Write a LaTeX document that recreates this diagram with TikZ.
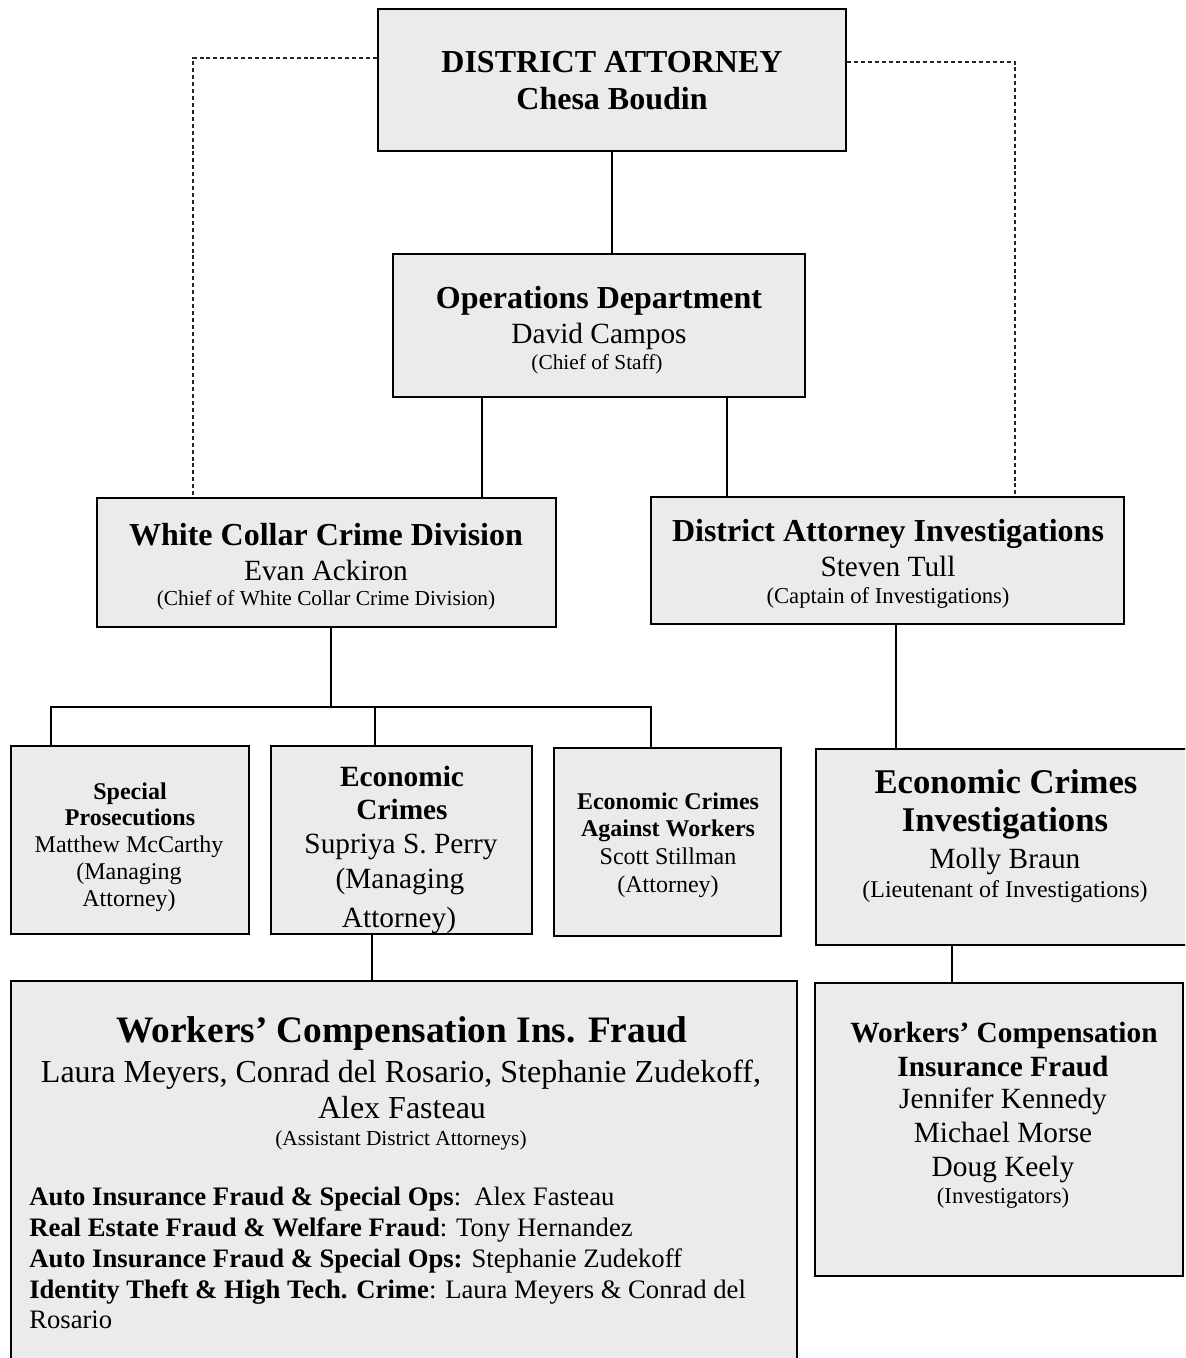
\documentclass[tikz,border=0pt]{standalone}
\usepackage{fontspec}
\setmainfont{Liberation Serif}
\usetikzlibrary{fit}
\definecolor{boxgray}{HTML}{EBEBEB}
\newcommand\setfs[1]{\fontsize{#1}{#1}\selectfont}
\tikzset{
  box/.style={draw=black, line width=1.7pt, fill=boxgray, inner sep=0pt, rectangle},
  conn/.style={draw=black, line width=0.9pt},
  dconn/.style={draw=black!85, line width=1.4pt, dash pattern=on 3pt off 2.2pt},
  txt/.style={anchor=base, inner sep=0pt},
  ltxt/.style={anchor=base west, inner sep=0pt, font=\setfs{20}},
  b28/.style={font=\setfs{28}\bfseries},
  b26/.style={font=\setfs{26}\bfseries},
  b24/.style={font=\setfs{24}\bfseries},
  b22/.style={font=\setfs{22}\bfseries},
  b18/.style={font=\setfs{18}\bfseries},
  r24/.style={font=\setfs{24}},
  r22/.style={font=\setfs{22}},
  r18/.style={font=\setfs{18}},
  r17/.style={font=\setfs{17}},
  r16/.style={font=\setfs{16}},
}
\begin{document}
\begin{tikzpicture}[x=0.75pt,y=-0.75pt]
\useasboundingbox (0,0) rectangle (1185,1358);
\fill[white] (0,0) rectangle (1185,1358);
\clip (0,0) rectangle (1185,1358);

% boxes
\node[box, fit={(378,9) (846,151)}] (da) {};
\node[box, fit={(393,254) (805,397)}] (ops) {};
\node[box, fit={(97,498) (556,627)}] (wccd) {};
\node[box, fit={(651,497) (1124,624)}] (dai) {};
\node[box, fit={(11,746) (249,934)}] (sp) {};
\node[box, fit={(271,746) (532,934)}] (ec) {};
\node[box, fit={(554,748) (781,936)}] (ecaw) {};
\node[box, fit={(816,749) (1200,945)}] (eci) {};
\node[box, fit={(11,981) (797,1380)}] (wcif) {};
\node[box, fit={(815,983) (1183,1276)}] (wcir) {};

% junction coordinates
\coordinate (cA) at (612,0);
\coordinate (cB) at (482,0);
\coordinate (cC) at (727,0);
\coordinate (dl) at (193,58);
\coordinate (dr) at (1015,62);
\coordinate (jw) at (331,707);
\coordinate (bl) at (51,707);
\coordinate (bm) at (375,707);
\coordinate (br) at (651,707);
\coordinate (cD) at (896,0);
\coordinate (cE) at (372,0);
\coordinate (cF) at (952,0);

% connectors
\draw[conn] (da.south -| cA) -- (ops.north -| cA);
\draw[conn] (ops.south -| cB) -- (wccd.north -| cB);
\draw[conn] (ops.south -| cC) -- (dai.north -| cC);
\draw[dconn] (da.west |- dl) -- (dl) -- (dl |- wccd.north);
\draw[dconn] (da.east |- dr) -- (dr) -- (dr |- dai.north);
\draw[conn] (wccd.south -| jw) -- (jw);
\draw[conn] (bl |- sp.north) -- (bl) -- (br) -- (br |- ecaw.north);
\draw[conn] (bm) -- (bm |- ec.north);
\draw[conn] (dai.south -| cD) -- (eci.north -| cD);
\draw[conn] (ec.south -| cE) -- (wcif.north -| cE);
\draw[conn] (eci.south -| cF) -- (wcir.north -| cF);

% texts
\node[txt,b24] (da1) at (612,73) {DISTRICT ATTORNEY};
\node[txt,b24] (da2) at (612,110) {Chesa Boudin};

\node[txt,b24] (op1) at (599,309) {Operations Department};
\node[txt,r22] (op2) at (599,344) {David Campos};
\node[txt,r16] (op3) at (597,369) {(Chief of Staff)};

\node[txt,b24] (wc1) at (326,545) {White Collar Crime Division};
\node[txt,r22] (wc2) at (326,580) {Evan Ackiron};
\node[txt,r16] (wc3) at (326,605) {(Chief of White Collar Crime Division)};

\node[txt,b24] (dai1) at (888,541) {District Attorney Investigations};
\node[txt,r22] (dai2) at (888,576) {Steven Tull};
\node[txt,r17] (dai3) at (888,603) {(Captain of Investigations)};

\node[txt,b18] (sp1) at (130,799) {Special};
\node[txt,b18] (sp2) at (130,825) {Prosecutions};
\node[txt,r18] (sp3) at (129,852) {Matthew McCarthy};
\node[txt,r18] (sp4) at (129,879) {(Managing};
\node[txt,r18] (sp5) at (129,906) {Attorney)};

\begin{scope}
\clip (271,746) rectangle (532,932);
\node[txt,b22] (ec1) at (402,786) {Economic};
\node[txt,b22] (ec2) at (402,819) {Crimes};
\node[txt,r22] (ec3) at (401,853) {Supriya S. Perry};
\node[txt,r22] (ec4) at (400,888) {(Managing};
\node[txt,r22] (ec5) at (399,927) {Attorney)};
\end{scope}

\node[txt,b18] (ew1) at (668,809) {Economic Crimes};
\node[txt,b18] (ew2) at (668,836) {Against Workers};
\node[txt,r18] (ew3) at (668,864) {Scott Stillman};
\node[txt,r18] (ew4) at (668,892) {(Attorney)};

\node[txt,b26] (ei1) at (1006,793) {Economic Crimes};
\node[txt,b26] (ei2) at (1005,831) {Investigations};
\node[txt,r22] (ei3) at (1005,868) {Molly Braun};
\node[txt,r18] (ei4) at (1005,897) {(Lieutenant of Investigations)};

\node[txt,b28] (wf1) at (402,1042) {Workers’ Compensation Ins. Fraud};
\node[txt,r24] (wf2) at (401,1082) {Laura Meyers, Conrad del Rosario, Stephanie Zudekoff,};
\node[txt,r24] (wf3) at (402,1118) {Alex Fasteau};
\node[txt,r16] (wf4) at (401,1145) {(Assistant District Attorneys)};
\node[ltxt] (wf5) at (29,1205) {\textbf{Auto Insurance Fraud \& Special Ops}:\enspace Alex Fasteau};
\node[ltxt] (wf6) at (29,1236) {\textbf{Real Estate Fraud \& Welfare Fraud}: Tony Hernandez};
\node[ltxt] (wf7) at (29,1267) {\textbf{Auto Insurance Fraud \& Special Ops:} Stephanie Zudekoff};
\node[ltxt] (wf8) at (29,1298) {\textbf{Identity Theft \& High Tech. Crime}: Laura Meyers \& Conrad del};
\node[ltxt] (wf9) at (29,1328) {Rosario};

\node[txt,b22] (wr1) at (1004,1042) {Workers’ Compensation};
\node[txt,b22] (wr2) at (1003,1076) {Insurance Fraud};
\node[txt,r22] (wr3) at (1003,1108) {Jennifer Kennedy};
\node[txt,r22] (wr4) at (1003,1142) {Michael Morse};
\node[txt,r22] (wr5) at (1003,1176) {Doug Keely};
\node[txt,r17] (wr6) at (1003,1203) {(Investigators)};
\end{tikzpicture}
\end{document}
